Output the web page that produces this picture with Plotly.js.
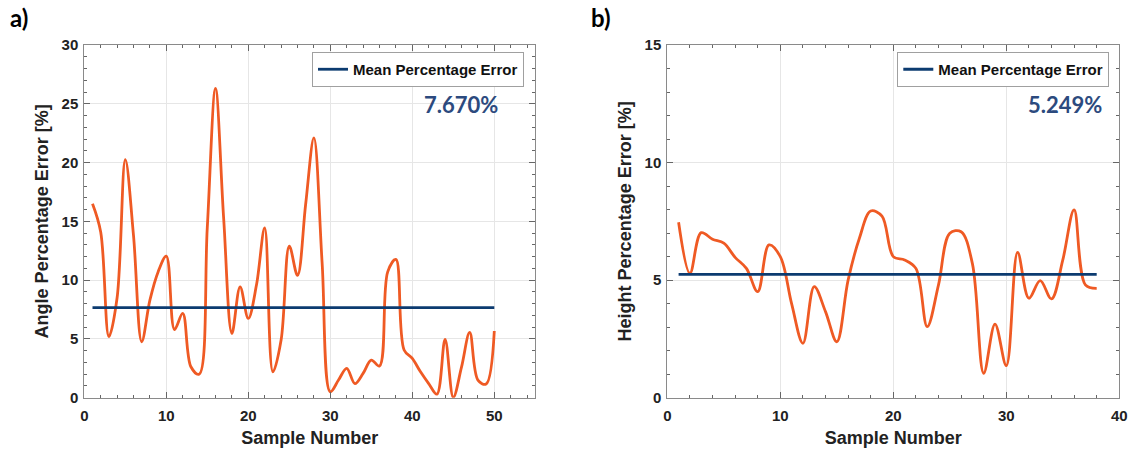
<!DOCTYPE html>
<html>
<head>
<meta charset="utf-8">
<script src="https://cdn.plot.ly/plotly-3.0.1.min.js"></script>
<style>html,body{margin:0;padding:0;background:#fff;}#chart{width:1136px;height:452px;}</style>
</head>
<body>
<div id="chart"></div>
<script>
// ---- Data ----
const sampleA = [1,2,3,4,5,6,7,8,9,10,11,12,13,14,15,16,17,18,19,20,21,22,23,24,25,26,27,28,29,30,31,32,33,34,35,36,37,38,39,40,41,42,43,44,45,46,47,48,49,50];
const angleError = [16.5,14.1,5.2,8.5,20.25,13.8,4.76,8.3,10.7,12.04,5.8,7.17,2.63,2.0,14.5,26.3,15.2,5.47,9.43,6.74,9.6,14.45,2.2,4.9,12.9,10.4,16.5,22.1,11.5,0.5,1.5,2.5,1.2,2.07,3.2,2.7,10.7,11.76,4.06,3.34,2.2,1.2,0.3,4.96,0.03,2.6,5.55,1.5,1.16,5.67];
const angleMean = 7.670;

const sampleB = [1,2,3,4,5,6,7,8,9,10,11,12,13,14,15,16,17,18,19,20,21,22,23,24,25,26,27,28,29,30,31,32,33,34,35,36,37,38];
const heightError = [7.46,5.29,7.02,6.74,6.57,5.97,5.5,4.51,6.5,6.0,4.0,2.31,4.72,3.66,2.38,5.0,6.78,7.94,7.72,6.0,5.86,5.5,3.02,4.8,6.99,7.06,5.7,1.04,3.13,1.36,6.18,4.23,4.98,4.2,5.86,7.99,4.8,4.65];
const heightMean = 5.249;

const panelLabels = ['a)', 'b)'];
const yTitles = ['Angle Percentage Error [%]', 'Height Percentage Error [%]'];
const xTitle = 'Sample Number';
const legendName = 'Mean Percentage Error';
const xRangeA = [0, 55], yRangeA = [0, 30];
const xRangeB = [0, 40], yRangeB = [0, 15];

// ---- Style ----
const W = 1136, H = 452;
const ORANGE = '#ef5a24', NAVY = '#0c3b70', ANNO = '#2c4a7e';
const ARIAL = 'Liberation Sans, Arial, sans-serif';
const CAL = 'Lato, Open Sans, sans-serif';

const px = v => v / W, py = v => 1 - v / H;

function axisBase(range, dtick, minorDtick, title, standoff, labelStandoff) {
  return {
    range: range, autorange: false, dtick: dtick, tick0: 0,
    showline: true, mirror: 'allticks', linecolor: '#8a8a8a', linewidth: 1,
    ticks: 'inside', ticklen: 6, tickcolor: '#666', tickwidth: 1,
    ticklabelstandoff: labelStandoff,
    showgrid: true, gridcolor: '#e6e6e6', gridwidth: 1, zeroline: false,
    tickfont: {family: ARIAL, size: 15, color: '#222', weight: 'bold'},
    minor: {ticks: 'inside', ticklen: 3, dtick: minorDtick, tickcolor: '#666', showgrid: false},
    title: {text: title, font: {family: ARIAL, size: 18, color: '#222', weight: 'bold'}, standoff: standoff},
    fixedrange: true
  };
}

const traces = [
  {x: sampleA, y: angleError, type: 'scatter', mode: 'lines', xaxis: 'x', yaxis: 'y',
   line: {color: ORANGE, width: 2.8, shape: 'spline', smoothing: 1}, showlegend: false, hoverinfo: 'skip'},
  {x: [sampleA[0], sampleA[sampleA.length - 1]], y: [angleMean, angleMean], type: 'scatter', mode: 'lines',
   xaxis: 'x', yaxis: 'y', name: legendName, legend: 'legend',
   line: {color: NAVY, width: 2.8}, hoverinfo: 'skip'},
  {x: sampleB, y: heightError, type: 'scatter', mode: 'lines', xaxis: 'x2', yaxis: 'y2',
   line: {color: ORANGE, width: 2.8, shape: 'spline', smoothing: 1}, showlegend: false, hoverinfo: 'skip'},
  {x: [sampleB[0], sampleB[sampleB.length - 1]], y: [heightMean, heightMean], type: 'scatter', mode: 'lines',
   xaxis: 'x2', yaxis: 'y2', name: legendName, legend: 'legend2',
   line: {color: NAVY, width: 2.8}, hoverinfo: 'skip'}
];

const legendStyle = (xr, yt) => ({
  x: px(xr), y: py(yt), xanchor: 'right', yanchor: 'top',
  bgcolor: '#ffffff', bordercolor: '#a0a0a0', borderwidth: 1,
  font: {family: ARIAL, size: 15, color: '#111', weight: 'bold'},
  itemwidth: 30
});

const xA = axisBase(xRangeA, 10, 2, xTitle, 8, 4);
xA.domain = [px(84.3), px(535.3)]; xA.anchor = 'y';
const yA = axisBase(yRangeA, 5, 1, yTitles[0], 8, 2);
yA.domain = [py(397.7), py(45)]; yA.anchor = 'x';
const xB = axisBase(xRangeB, 10, 2, xTitle, 8, 4);
xB.domain = [px(667.3), px(1119.3)]; xB.anchor = 'y2';
const yB = axisBase(yRangeB, 5, 1, yTitles[1], 8, 2);
yB.domain = [py(397.7), py(45)]; yB.anchor = 'x2';

const anno = (x, y, text, font) => ({xref: 'paper', yref: 'paper', x: px(x), y: py(y),
  xanchor: 'center', yanchor: 'middle', text: text, showarrow: false, font: font});

const layout = {
  width: W, height: H,
  margin: {l: 0, r: 0, t: 0, b: 0},
  paper_bgcolor: '#fff', plot_bgcolor: '#fff',
  xaxis: xA, yaxis: yA, xaxis2: xB, yaxis2: yB,
  legend: legendStyle(524, 52),
  legend2: legendStyle(1109.3, 52),
  annotations: [
    anno(461, 104, angleMean.toFixed(3) + '%', {family: CAL, size: 22, color: ANNO, weight: 'bold'}),
    anno(1065, 104, heightMean.toFixed(3) + '%', {family: CAL, size: 22, color: ANNO, weight: 'bold'}),
    anno(19, 17, panelLabels[0], {family: CAL, size: 24, color: '#000', weight: 'bold'}),
    anno(601, 17, panelLabels[1], {family: CAL, size: 24, color: '#000', weight: 'bold'})
  ]
};

Plotly.newPlot('chart', traces, layout, {displayModeBar: false, staticPlot: true});
</script>
</body>
</html>
